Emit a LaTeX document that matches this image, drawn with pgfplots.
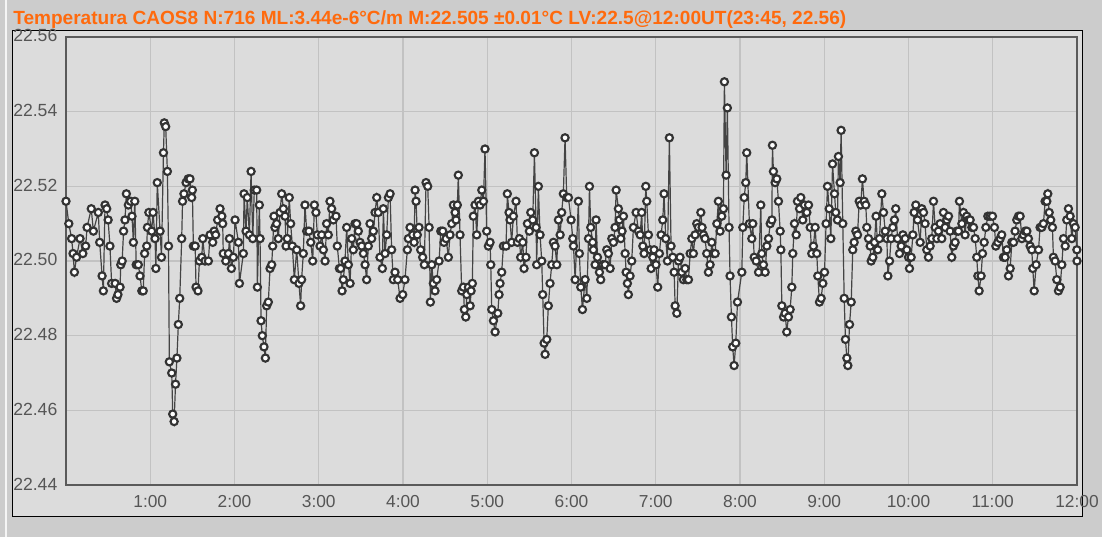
\documentclass[border=0pt]{standalone}
\usepackage{fontspec}
\setmainfont{Liberation Sans}
\usepackage{pgfplots}
\pgfplotsset{compat=1.18}

\definecolor{pagebg}{HTML}{CCCCCC}
\definecolor{panelbg}{HTML}{DCDCDC}
\definecolor{gridc}{HTML}{C2C2C2}
\definecolor{framec}{HTML}{5A5A5A}
\definecolor{ticklab}{HTML}{555555}
\definecolor{titlec}{HTML}{FF6A0D}
\definecolor{ptline}{HTML}{333333}
\definecolor{segline}{HTML}{444444}

\begin{document}
\begin{tikzpicture}
% page and panel (1px = 0.75pt)
\fill[pagebg] (0,0) rectangle (826.5pt,402.75pt);
\path[use as bounding box] (0,0) rectangle (826.5pt,402.75pt);
\fill[white!80!pagebg] (3.75pt,0) rectangle (5.25pt,402.75pt);
\draw[black, line width=0.75pt, fill=panelbg] (9pt,15.75pt) rectangle (811.5pt,379.5pt);
\node[anchor=base west, inner sep=0pt, text=titlec,
      font=\fontsize{14.3}{16}\selectfont\bfseries]
  at (9.75pt,384.5pt)
  {Temperatura CAOS8 N:716 ML:3.44e-6°C/m M:22.505 ±0.01°C LV:22.5@12:00UT(23:45, 22.56)};

\begin{axis}[
    at={(49.5pt,39pt)}, anchor=south west,
    scale only axis, width=758.25pt, height=336pt,
    xmin=0, xmax=720, ymin=22.44, ymax=22.56,
    axis background/.style={fill=panelbg},
    axis line style={framec, line width=2pt},
    grid=major,
    major grid style={gridc, line width=0.8pt},
    major tick length=0pt,
    xtick={60,120,180,240,300,360,420,480,540,600,660,720},
    xticklabels={1:00,2:00,3:00,4:00,5:00,6:00,7:00,8:00,9:00,10:00,11:00,12:00},
    ytick={22.44,22.46,22.48,22.50,22.52,22.54,22.56},
    scaled y ticks=false,
    /pgf/number format/assume math mode=true,
    yticklabel={\pgfmathprintnumber[fixed,fixed zerofill,precision=2,assume math mode=true]{\tick}},
    yticklabel style={anchor=west, xshift=-39.75pt, yshift=0.8pt, inner sep=0pt, text=ticklab,
                      font=\fontsize{13.2}{15}\selectfont},
    xticklabel style={text=ticklab, yshift=-4pt, font=\fontsize{13}{15}\selectfont},
    clip=false,
]

\addplot[color=segline, line width=0.9pt, mark=*, mark size=2.7pt,
         mark options={draw=ptline, fill=white, line width=1.6pt}]
  table {
x y
0 22.516
2 22.510
4 22.506
5 22.502
6 22.497
7.5 22.501
10 22.506
12 22.502
14 22.504
15 22.509
18 22.514
19.5 22.508
23 22.513
24 22.505
25.7 22.496
26.6 22.492
27.8 22.515
29 22.514
30 22.511
31.3 22.504
32.5 22.494
35 22.494
36 22.490
37 22.491
38.5 22.493
39 22.499
40 22.500
41 22.508
42 22.511
43 22.518
44.4 22.515
46 22.516
47 22.512
48 22.505
49 22.516
50 22.499
51.5 22.499
52.7 22.496
54 22.492
55 22.492
56 22.502
57.5 22.504
58 22.509
59 22.513
61 22.508
62 22.513
63.4 22.506
64 22.498
65 22.521
67 22.508
68 22.501
69.4 22.529
70 22.537
71 22.536
72.2 22.524
73 22.504
73.6 22.473
75.3 22.470
76 22.459
77 22.457
78 22.467
79 22.474
80 22.483
81 22.490
82.4 22.506
83 22.516
84 22.518
85.5 22.521
87 22.522
88.3 22.522
89.5 22.517
90 22.519
90.7 22.504
92 22.504
92.6 22.493
94 22.492
95 22.500
96.7 22.501
97.4 22.506
99 22.500
101.4 22.500
102.6 22.507
104.5 22.505
105.5 22.508
106.6 22.507
108 22.511
109.7 22.514
111 22.512
111.6 22.510
112 22.502
113.8 22.500
115.7 22.502
116.4 22.506
117.8 22.498
119.2 22.501
120.4 22.511
122.8 22.505
123.5 22.494
126.3 22.502
126.8 22.518
128.2 22.508
129.1 22.517
130.6 22.507
131.8 22.524
133 22.506
134.1 22.519
135.8 22.519
136.3 22.493
137.7 22.515
138.2 22.506
138.9 22.484
139.8 22.480
141 22.477
142 22.474
142.9 22.488
144.1 22.489
145.3 22.498
146.5 22.499
147.2 22.504
148.1 22.512
148.8 22.509
150 22.510
151.2 22.506
152.4 22.513
153.6 22.518
154.8 22.514
156 22.512
156.7 22.504
157.6 22.506
159 22.517
160 22.510
161.2 22.504
162.6 22.495
164.3 22.503
165.9 22.494
167.1 22.488
167.8 22.495
169 22.502
170.2 22.515
171.4 22.508
173 22.508
174.3 22.505
175.7 22.500
176.9 22.515
178 22.513
179 22.507
180.9 22.504
182.1 22.507
183.3 22.503
184.5 22.500
185.6 22.510
186.8 22.507
188 22.516
189.2 22.514
190.4 22.511
192.3 22.512
193.2 22.504
194.7 22.498
195.6 22.498
196.6 22.492
197.5 22.495
198.7 22.500
199.9 22.509
201.1 22.499
202.3 22.494
203.5 22.506
204.6 22.503
205.8 22.510
207 22.510
208.2 22.508
209.4 22.505
210.6 22.504
211.8 22.502
213 22.499
214.1 22.495
215.3 22.504
216.5 22.510
217.7 22.506
218.9 22.508
220.1 22.513
221.3 22.517
222.4 22.513
223.6 22.501
225.3 22.498
226 22.514
227.2 22.502
228.4 22.507
229.6 22.517
230.8 22.518
231.9 22.503
233.1 22.495
234.3 22.497
236.2 22.495
237.9 22.490
239.8 22.491
241.4 22.495
243.1 22.503
243.8 22.506
245 22.509
246.9 22.507
247.9 22.505
248.6 22.519
249.3 22.516
250.2 22.507
251.4 22.509
252.6 22.503
254 22.501
255.2 22.499
256.4 22.521
257.6 22.520
258.6 22.509
259.5 22.489
260.5 22.499
261.6 22.494
262.8 22.492
264 22.495
265.7 22.500
266.9 22.508
268.3 22.508
269.2 22.505
270.7 22.506
272.3 22.501
273.5 22.507
274.7 22.510
275.9 22.515
277.1 22.513
277.8 22.511
278.7 22.515
279.4 22.523
280.6 22.507
281.8 22.492
283 22.493
283.7 22.487
284.7 22.485
285.4 22.491
286.6 22.493
287.8 22.488
288.5 22.492
289.4 22.494
290.1 22.512
291.3 22.515
292.5 22.507
293.7 22.516
294.9 22.515
296.1 22.519
297.3 22.516
298.4 22.530
299.6 22.508
300.8 22.504
302 22.505
302.5 22.499
303.2 22.487
304.4 22.484
305.6 22.481
307.5 22.486
308.4 22.491
309.1 22.494
310.3 22.497
311.5 22.504
313.4 22.504
314.3 22.518
315.5 22.513
316.2 22.511
317.4 22.505
318.6 22.512
320.5 22.516
321.5 22.505
322.9 22.506
323.8 22.501
325.3 22.505
326.2 22.498
327.6 22.501
328.6 22.510
330 22.508
331 22.513
332.4 22.511
333.6 22.529
334.8 22.509
335.2 22.499
336.4 22.520
337.6 22.507
338.8 22.500
339.5 22.491
340.5 22.478
341.2 22.475
342.4 22.479
343.5 22.488
344.7 22.494
345.9 22.499
347.1 22.505
348.3 22.504
349.5 22.499
350.7 22.511
351.9 22.507
353 22.513
354.2 22.518
355.4 22.533
356.6 22.517
357.8 22.517
359.7 22.511
360.9 22.506
361.4 22.504
362.6 22.495
364.9 22.516
365.6 22.502
366.6 22.493
367.8 22.487
369.7 22.495
370.9 22.490
372.1 22.506
372.8 22.520
373.7 22.509
375.1 22.505
375.6 22.503
376.8 22.499
377.5 22.511
378.5 22.501
379.9 22.497
380.8 22.495
382.3 22.499
383.9 22.499
385.1 22.503
386.3 22.502
387.5 22.498
388.7 22.506
389.9 22.505
391 22.509
391.8 22.519
393.4 22.514
394.1 22.511
395.1 22.506
396 22.508
397 22.512
398.2 22.502
398.9 22.497
399.8 22.494
400.5 22.491
401.7 22.496
402.9 22.500
404.1 22.509
406 22.513
407.7 22.508
408.9 22.507
410 22.513
410.8 22.504
411.7 22.502
412.9 22.520
413.6 22.516
414.8 22.507
416 22.503
416.7 22.498
417.9 22.501
418.8 22.503
420.2 22.499
421.4 22.493
422.6 22.502
423.8 22.507
425 22.511
425.9 22.518
427.1 22.506
428.3 22.500
429.7 22.533
430.9 22.504
432.1 22.501
433.1 22.497
433.8 22.488
435 22.486
436.2 22.500
437.3 22.501
438.5 22.497
439.7 22.495
440.9 22.498
442.1 22.495
443.3 22.495
444.5 22.502
445.7 22.506
446.8 22.502
448 22.507
449.2 22.510
450.4 22.509
452.1 22.513
453 22.509
454 22.507
455.1 22.506
456.3 22.502
457.5 22.497
458.7 22.499
459.9 22.505
461.1 22.502
462.3 22.502
463.5 22.510
464.6 22.516
465.8 22.508
467 22.512
468.2 22.514
468.9 22.548
470.1 22.523
471 22.541
472.2 22.509
472.9 22.496
473.9 22.485
474.8 22.477
475.8 22.472
477 22.478
478.2 22.489
481.3 22.497
482 22.509
483 22.517
484.1 22.521
484.8 22.529
486.7 22.510
488.4 22.506
489.1 22.510
490.1 22.501
491.5 22.500
493.2 22.497
494.8 22.515
495.5 22.502
496.7 22.499
497.9 22.497
499.1 22.504
500.3 22.506
501.5 22.510
502.7 22.511
503.1 22.531
503.8 22.524
505 22.521
506.2 22.522
507.4 22.516
508.6 22.508
509.1 22.503
509.8 22.488
511 22.485
512.1 22.486
513.3 22.481
514.5 22.485
515.7 22.487
516.9 22.493
517.6 22.502
518.8 22.510
520 22.507
520.9 22.516
522.4 22.514
523.3 22.517
524.7 22.511
525.9 22.515
527.6 22.513
528.8 22.515
530 22.509
531.1 22.502
532.3 22.504
533.5 22.509
534.7 22.502
535.4 22.496
536.6 22.489
537.8 22.490
539 22.494
540.2 22.497
541.3 22.510
542.3 22.520
543.5 22.514
544.7 22.506
545.9 22.526
547.3 22.518
548.2 22.513
549.4 22.511
550.1 22.528
551.3 22.521
552 22.535
553.2 22.510
554.2 22.490
555.1 22.479
556.1 22.474
556.8 22.472
558 22.483
559.2 22.489
560.3 22.503
561.3 22.505
562.5 22.508
563.7 22.507
564.9 22.516
566 22.515
567.2 22.522
568.4 22.516
569.6 22.515
570.3 22.509
571.5 22.506
572.7 22.504
573.4 22.500
574.6 22.501
575.8 22.505
576.9 22.512
578.1 22.503
579.3 22.506
581 22.518
582.2 22.513
583.4 22.508
584.6 22.506
585.3 22.496
586.5 22.500
587.6 22.506
588.8 22.509
590 22.511
590.9 22.514
592.2 22.506
593.6 22.502
594.8 22.504
596 22.507
597.6 22.506
598.8 22.503
600 22.501
600.7 22.498
601.9 22.501
603.1 22.507
604 22.513
605.2 22.515
606.4 22.511
608.3 22.505
609.5 22.514
610.7 22.513
611.8 22.510
613 22.503
614.2 22.501
615.4 22.504
616.6 22.506
617.8 22.516
619 22.509
620.2 22.506
621.3 22.508
622.5 22.510
623.7 22.506
624.9 22.513
626.1 22.509
627.3 22.511
628.5 22.512
629.6 22.508
630.8 22.501
632 22.504
633.2 22.505
634.4 22.508
635.6 22.508
636.3 22.516
638 22.510
639.1 22.513
640.3 22.507
641.5 22.512
642.7 22.511
643.9 22.511
645.1 22.509
646.3 22.509
647.5 22.506
648.6 22.501
649.4 22.496
650.3 22.492
651.7 22.496
652.7 22.502
653.9 22.505
655.1 22.509
656.5 22.512
658.1 22.512
659.8 22.512
661.2 22.509
662.2 22.504
663.6 22.505
665.3 22.506
666.4 22.507
667.6 22.501
668.8 22.501
670 22.503
671.2 22.496
672.4 22.498
673.6 22.505
674.8 22.505
675.9 22.508
677.1 22.511
678.3 22.512
679.5 22.512
680.7 22.506
681.9 22.507
683.1 22.508
684.3 22.508
685.4 22.506
686.6 22.504
687.8 22.503
688.5 22.498
689.5 22.492
690.9 22.499
692.6 22.503
693.7 22.509
694.9 22.509
696.1 22.510
697.3 22.516
698.5 22.516
699.2 22.518
700.2 22.513
701.3 22.511
702.5 22.509
703.2 22.501
704.4 22.500
705.6 22.495
706.8 22.492
708 22.493
709.2 22.499
710.4 22.506
711.6 22.504
712.7 22.511
713.9 22.514
715.1 22.512
716.3 22.506
717.5 22.510
718.7 22.509
719.9 22.503
720 22.500
};

\end{axis}
\end{tikzpicture}
\end{document}
